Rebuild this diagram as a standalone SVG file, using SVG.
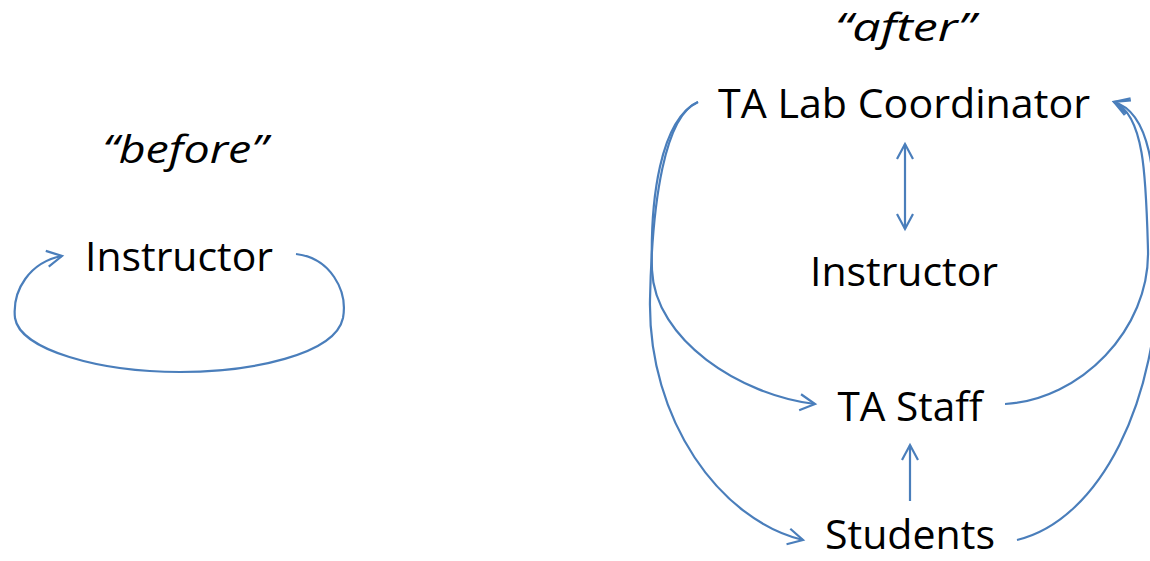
<svg xmlns="http://www.w3.org/2000/svg" width="1150" height="561" viewBox="0 0 1150 561">
<style>
.t{font-family:"Open Sans","Liberation Sans",sans-serif;font-size:41px;fill:#000;text-anchor:middle}
.h{font-family:"Open Sans","Liberation Sans",sans-serif;font-size:38px;font-style:italic;fill:#000;text-anchor:middle}
.c{fill:none;stroke:#4A7EBB;stroke-width:2.2}
</style>
<defs>
<marker id="ah" markerUnits="userSpaceOnUse" viewBox="-16 -10 20 20" refX="0" refY="0" markerWidth="20" markerHeight="20" orient="auto-start-reverse">
<path d="M-15,-8 L0,0 L-15,8" fill="none" stroke="#4A7EBB" stroke-width="2.2"/>
</marker>
</defs>
<rect width="1150" height="561" fill="#fff"/>
<g id="label-before"><text class="h" x="185" y="163" textLength="165" lengthAdjust="spacingAndGlyphs">“before”</text></g>
<g id="node-instructor-before"><text class="t" x="179" y="271" textLength="188" lengthAdjust="spacingAndGlyphs">Instructor</text></g>
<g id="label-after"><text class="h" x="905" y="41" textLength="140" lengthAdjust="spacingAndGlyphs">“after”</text></g>
<g id="node-ta-lab"><text class="t" x="904" y="118" textLength="372" lengthAdjust="spacingAndGlyphs">TA Lab Coordinator</text></g>
<g id="node-instructor-after"><text class="t" x="904" y="286" textLength="188" lengthAdjust="spacingAndGlyphs">Instructor</text></g>
<g id="node-ta-staff"><text class="t" x="910" y="421" textLength="145" lengthAdjust="spacingAndGlyphs">TA Staff</text></g>
<g id="node-students"><text class="t" x="910" y="549" textLength="170" lengthAdjust="spacingAndGlyphs">Students</text></g>
<g id="connectors">
<path class="c" d="M296,254 C330,258 348,290 343,318 C335,355 250,372 180,372 C100,372 20,350 15,318 C12,290 30,262 62,256" marker-end="url(#ah)"/>
<path class="c" d="M905,144 L905,229" marker-start="url(#ah)" marker-end="url(#ah)"/>
<path class="c" d="M910,501 L910,445" marker-end="url(#ah)"/>
<path class="c" d="M698,102 C660,120 650,200 652,270 C655,340 740,395 815,404" marker-end="url(#ah)"/>
<path class="c" d="M698,102 C665,115 652,200 650,300 C648,420 720,520 803,540" marker-end="url(#ah)"/>
<path class="c" d="M1005,404 C1080,400 1150,330 1148,250 C1146,180 1145,115 1114,102" marker-end="url(#ah)"/>
<path class="c" d="M1017,540 C1100,520 1160,400 1158,260 C1156,170 1150,112 1114,102" marker-end="url(#ah)"/>
</g>
</svg>
